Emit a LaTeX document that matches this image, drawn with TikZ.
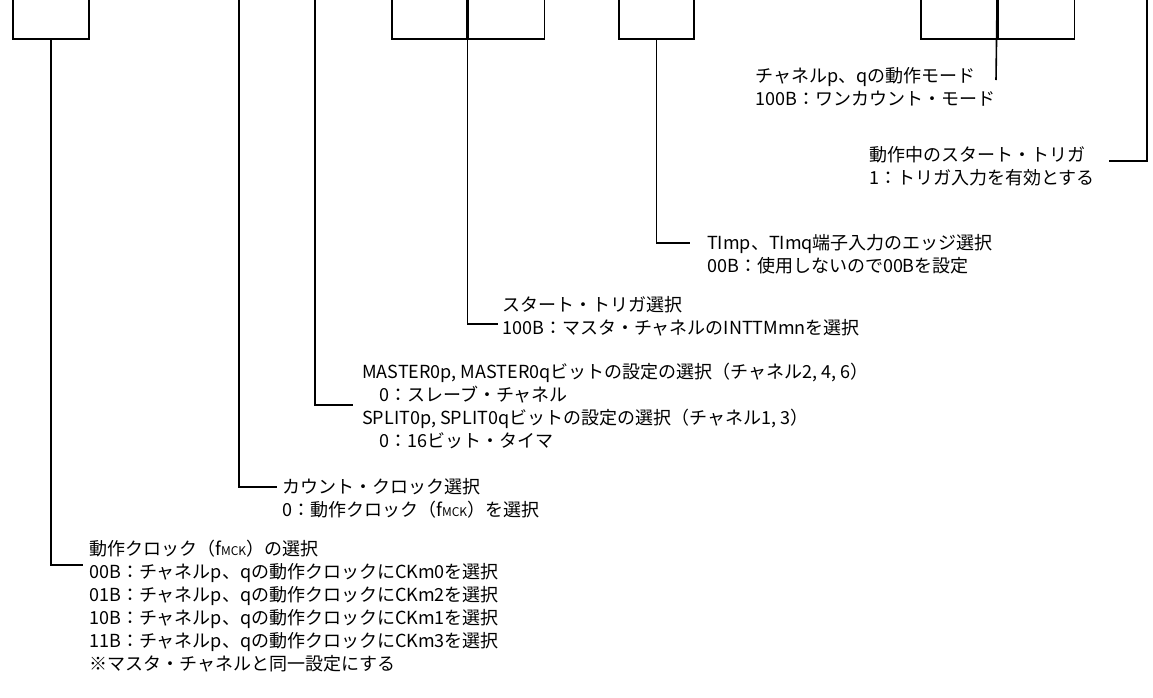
\documentclass[tikz,border=0pt]{standalone}
\usepackage{fontspec}
\setmainfont{Noto Sans CJK JP}
\usetikzlibrary{positioning}
\tikzset{
  bitcell/.style={rectangle, draw=black, line width=1.6pt, minimum width=76pt,
                  minimum height=80pt, inner sep=0pt, anchor=south west},
  leader/.style={draw=black, line width=1.6pt},
  desc/.style={anchor=north west, inner sep=0pt, align=left,
               font=\fontsize{18}{23}\selectfont},
}
\newcommand{\fmck}{f{\fontsize{12}{12}\selectfont MCK}}

\begin{document}
\begin{tikzpicture}[x=1pt, y=-1pt]
  \useasboundingbox (0,0) rectangle (1153,697);
  \clip (0,0) rectangle (1153,697);

  % Register bit cells (only their lower part is visible)
  \node[bitcell] (cCKS) at (12,40) {};
  \node[bitcell, minimum width=75pt] (cSTSa) at (391,40) {};
  \node[bitcell] (cSTSb) at (cSTSa.south east) {};
  \node[bitcell, minimum width=75pt] (cCIS) at (618,40) {};
  \node[bitcell] (cMDa) at (920,40) {};
  \node[bitcell] (cMDb) at (cMDa.south east) {};

  % Bit lines coming from above the picture
  \coordinate (pCCS) at (239,-5);
  \coordinate (pMAS) at (315,-5);
  \coordinate (pMD0) at (1147,-5);

  % Descriptions
  \node[desc] (tCKS) at (89,540)
    {動作クロック（\fmck）の選択\\
     00B：チャネルp、qの動作クロックにCKm0を選択\\
     01B：チャネルp、qの動作クロックにCKm2を選択\\
     10B：チャネルp、qの動作クロックにCKm1を選択\\
     11B：チャネルp、qの動作クロックにCKm3を選択\\
     ※マスタ・チャネルと同一設定にする};
  \node[desc] (tCCS) at (282,478)
    {カウント・クロック選択\\
     0：動作クロック（\fmck）を選択};
  \node[desc] (tMAS) at (362,363)
    {MASTER0p, MASTER0qビットの設定の選択（チャネル2, 4, 6）\\
     \hspace*{17pt}0：スレーブ・チャネル\\
     SPLIT0p, SPLIT0qビットの設定の選択（チャネル1, 3）\\
     \hspace*{17pt}0：16ビット・タイマ};
  \node[desc] (tSTS) at (502,296)
    {スタート・トリガ選択\\
     100B：マスタ・チャネルのINTTMmnを選択};
  \node[desc] (tCIS) at (707,234)
    {TImp、TImq端子入力のエッジ選択\\
     00B：使用しないので00Bを設定};
  \node[desc] (tMD) at (755,67)
    {チャネルp、qの動作モード\\
     100B：ワンカウント・モード};
  \node[desc] (tMD0) at (869,146)
    {動作中のスタート・トリガ\\
     1：トリガ入力を有効とする};
  \coordinate (mdtip) at (996,80);

  % Leader lines
  \draw[leader] (cCKS.south) |- ([xshift=-6pt, yshift=-25pt]tCKS.north west);
  \draw[leader] (pCCS) |- ([xshift=-5pt, yshift=-9pt]tCCS.north west);
  \draw[leader] (pMAS) |- ([xshift=-9pt, yshift=-42pt]tMAS.north west);
  \draw[leader] (cSTSa.north east) |- ([xshift=-4pt, yshift=-28pt]tSTS.north west);
  \draw[leader] (cCIS.south) |- ([xshift=-17pt, yshift=-9pt]tCIS.north west);
  \draw[leader] (cMDa.north east) -- (mdtip);
  \draw[leader] (pMD0) |- ([xshift=240pt, yshift=-15pt]tMD0.north west);
\end{tikzpicture}
\end{document}
